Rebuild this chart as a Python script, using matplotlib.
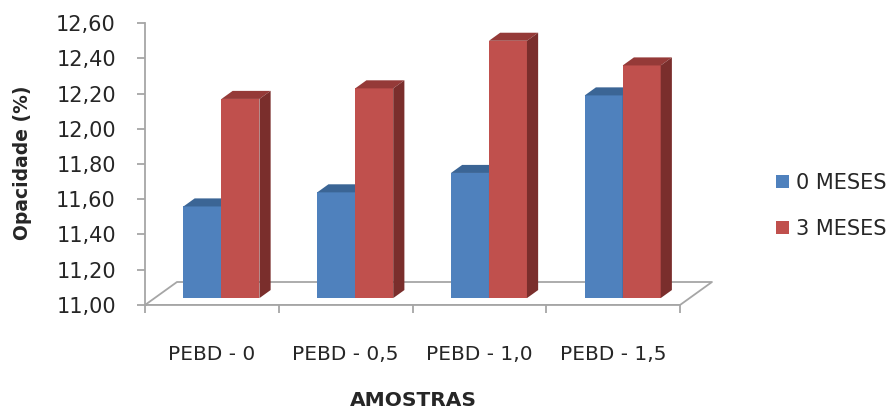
import matplotlib
matplotlib.use("Agg")
import matplotlib.pyplot as plt
from matplotlib.patches import Patch

plt.rcParams["font.family"] = ["DejaVu Sans"]

# Sample data
amostras = ["PEBD - 0", "PEBD - 0,5", "PEBD - 1,0", "PEBD - 1,5"]
meses_0 = [11.52, 11.60, 11.71, 12.15]
meses_3 = [12.13, 12.19, 12.46, 12.32]
series_labels = ["0 MESES", "3 MESES"]
y_ticks = [11.0, 11.2, 11.4, 11.6, 11.8, 12.0, 12.2, 12.4, 12.6]
y_tick_labels = ["11,00", "11,20", "11,40", "11,60", "11,80",
                 "12,00", "12,20", "12,40", "12,60"]

# face colours: front, top, side
blue = ("#4F81BD", "#3B6595", "#2F5079")
red = ("#C0504D", "#953A38", "#7A2E2C")

# oblique depth of the floor, in data units
DX, DY = 0.239, 0.1305
F0, F1 = 0.30, 0.65   # bar front / back as fraction of the floor depth
BAR_W = 0.284
BASE = 11.0

fig = plt.figure(figsize=(8.88, 4.12), dpi=100)
ax = fig.add_axes([145 / 888, 1 - 305 / 412, 535 / 888, 282 / 412])
ax.set_xlim(-0.5, 3.5)
ax.set_ylim(11.0, 12.6)
ax.patch.set_alpha(0)

grey = "#A6A6A6"
txt = "#262626"

# floor outline
n = len(amostras)
floor_x = [-0.5, n - 0.5, n - 0.5 + DX, -0.5 + DX, -0.5]
floor_y = [BASE, BASE, BASE + DY, BASE + DY, BASE]
ax.plot(floor_x, floor_y, color=grey, lw=1.3, clip_on=False, zorder=1)


def bar3d(x0, value, cols):
    front, top, side = cols
    xa, xb = x0 + F0 * DX, x0 + BAR_W + F0 * DX
    xc, xd = x0 + F1 * DX, x0 + BAR_W + F1 * DX
    ya, yb = BASE + F0 * DY, value + F0 * DY
    yc, yd = BASE + F1 * DY, value + F1 * DY
    ax.fill([xa, xb, xb, xa], [ya, ya, yb, yb], color=front, lw=0,
            clip_on=False, zorder=3)
    ax.fill([xa, xb, xd, xc], [yb, yb, yd, yd], color=top, lw=0,
            clip_on=False, zorder=3)
    ax.fill([xb, xd, xd, xb], [ya, yc, yd, yb], color=side, lw=0,
            clip_on=False, zorder=3)


for i in range(n):
    bar3d(i - BAR_W, meses_0[i], blue)
    bar3d(i, meses_3[i], red)

# axes styling
for s in ["top", "right", "bottom"]:
    ax.spines[s].set_visible(False)
ax.spines["left"].set_color(grey)
ax.spines["left"].set_linewidth(1.3)

ax.set_yticks(y_ticks)
ax.set_yticklabels(y_tick_labels)
ax.tick_params(axis="y", length=6, width=1.3, color=grey, pad=15,
               labelsize=15, labelcolor=txt)

ax.set_xticks([i - 0.5 for i in range(n + 1)])
ax.set_xticklabels([])
ax.set_xticks(range(n), minor=True)
ax.set_xticklabels(amostras, minor=True)
ax.tick_params(axis="x", which="major", length=6, width=1.3, color=grey)
ax.tick_params(axis="x", which="minor", length=0, pad=29, labelsize=14.5,
               labelcolor=txt)
# front floor edge
ax.axhline(BASE, color=grey, lw=1.3, zorder=1)

fig.text(22 / 888, 1 - 163 / 412, "Opacidade (%)", rotation=90,
         ha="center", va="center", fontsize=13.5, fontweight="bold",
         color=txt)
fig.text(413 / 888, 1 - 401 / 412, "AMOSTRAS", ha="center", va="center",
         fontsize=14.5, fontweight="bold", color=txt)

handles = [Patch(facecolor=blue[0]), Patch(facecolor=red[0])]
fig.legend(handles, series_labels, loc="center left",
           bbox_to_anchor=(776 / 888, 1 - 206 / 412), frameon=False,
           fontsize=15, handlelength=0.6, handleheight=0.6,
           handletextpad=0.35, labelspacing=1.25, borderpad=0,
           borderaxespad=0, labelcolor=txt)

fig.savefig("out.png", dpi=100)
